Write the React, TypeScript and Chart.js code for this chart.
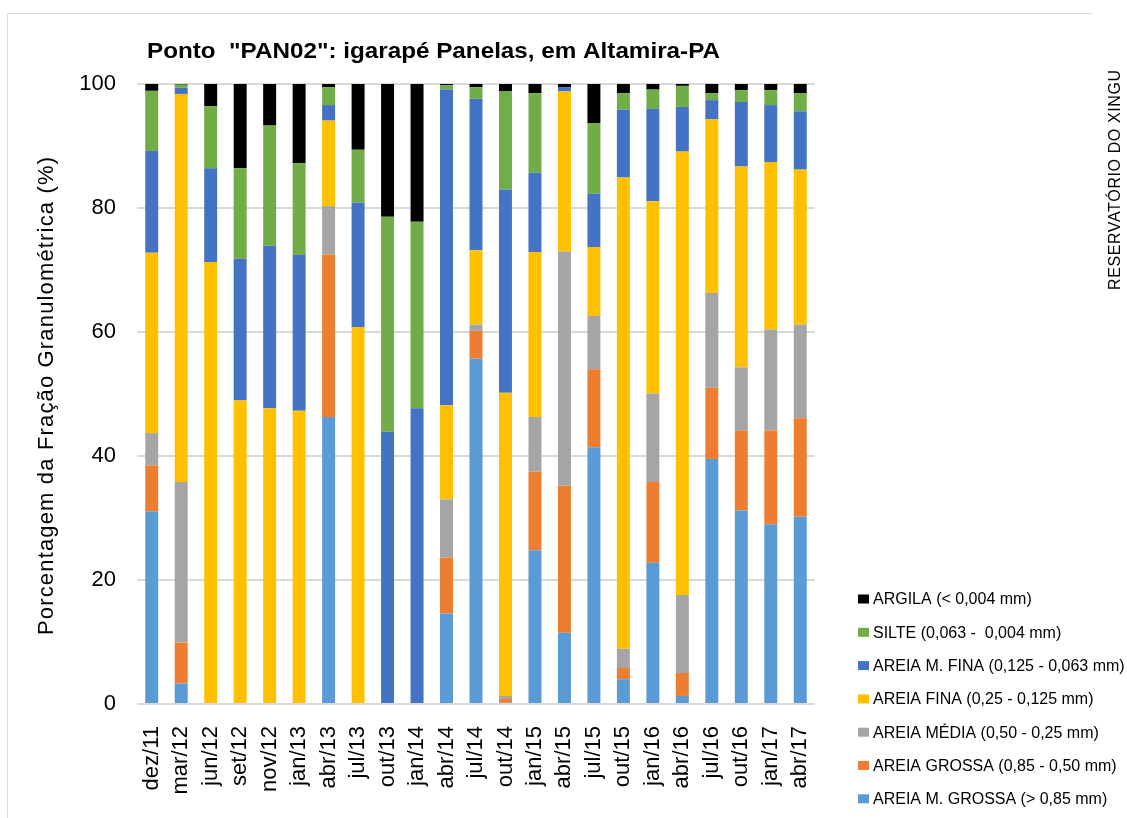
import React, { useEffect, useRef } from 'react';
import { Chart, registerables } from 'chart.js';

Chart.register(...registerables);

const categories = ['dez/11', 'mar/12', 'jun/12', 'set/12', 'nov/12', 'jan/13', 'abr/13', 'jul/13', 'out/13', 'jan/14', 'abr/14', 'jul/14', 'out/14', 'jan/15', 'abr/15', 'jul/15', 'out/15', 'jan/16', 'abr/16', 'jul/16', 'out/16', 'jan/17', 'abr/17'];

const areiaMGrossa = [31.1, 3.3, 0, 0, 0, 0, 46.3, 0, 0, 0, 14.6, 55.7, 0.2, 24.8, 11.5, 41.4, 4.0, 22.8, 1.3, 39.5, 31.2, 29.0, 30.2];
const areiaGrossa = [7.4, 6.6, 0, 0, 0, 0, 26.2, 0, 0, 0, 9.0, 4.5, 0.6, 12.7, 23.7, 12.6, 1.8, 13.0, 3.7, 11.5, 12.9, 15.1, 15.9];
const areiaMedia = [5.2, 25.9, 0, 0, 0, 0, 7.8, 0, 0, 0, 9.4, 1.0, 0.5, 8.8, 37.8, 8.6, 3.1, 14.3, 12.6, 15.3, 10.2, 16.3, 15.1];
const areiaFina = [29.1, 62.6, 71.3, 49.0, 47.7, 47.3, 13.8, 60.8, 0, 0, 15.2, 12.0, 48.9, 26.6, 25.8, 11.1, 76.0, 31.0, 71.5, 28.0, 32.4, 27.0, 25.0];
const areiaMFina = [16.4, 1.0, 15.1, 22.8, 26.2, 25.1, 2.5, 20.1, 43.9, 47.7, 50.9, 24.4, 32.8, 12.8, 0.7, 8.6, 11.0, 14.9, 7.2, 3.1, 10.4, 9.2, 9.4];
const silte = [9.7, 0.5, 10.0, 14.6, 19.4, 14.8, 2.9, 8.5, 34.7, 30.1, 0.7, 1.9, 15.8, 12.8, 0, 11.4, 2.6, 3.1, 3.4, 1.1, 1.9, 2.4, 2.9];
const argila = [1.1, 0.2, 3.6, 13.6, 6.7, 12.8, 0.5, 10.6, 21.4, 22.2, 0.3, 0.5, 1.2, 1.5, 0.5, 6.4, 1.5, 1.0, 0.3, 1.5, 1.0, 1.0, 1.5];

const seriesLabels = [
  'AREIA M. GROSSA (> 0,85 mm)',
  'AREIA GROSSA (0,85 - 0,50 mm)',
  'AREIA MÉDIA (0,50 - 0,25 mm)',
  'AREIA FINA (0,25 - 0,125 mm)',
  'AREIA M. FINA (0,125 - 0,063 mm)',
  'SILTE (0,063 -  0,004 mm)',
  'ARGILA (< 0,004 mm)',
];
const seriesColors = ['#5B9BD5', '#ED7D31', '#A5A5A5', '#FFC000', '#4472C4', '#70AD47', '#000000'];
const seriesData = [areiaMGrossa, areiaGrossa, areiaMedia, areiaFina, areiaMFina, silte, argila];

const TITLE = 'Ponto  "PAN02": igarapé Panelas, em Altamira-PA';
const Y_TITLE = 'Porcentagem da Fração Granulométrica (%)';
const SIDE_TEXT = 'RESERVATÓRIO DO XINGU';
const Y_MIN = 0;
const Y_MAX = 100;
const Y_STEP = 20;

const FONT = "Arial, 'Liberation Sans', Helvetica, sans-serif";

function spacedText(ctx: CanvasRenderingContext2D, text: string, font: string, x: number, y: number, target: number, center: boolean) {
  ctx.font = font;
  (ctx as any).letterSpacing = '0px';
  const w = ctx.measureText(text).width;
  const ls = (target - w) / Math.max(text.length - 1, 1);
  (ctx as any).letterSpacing = `${ls}px`;
  ctx.textAlign = 'left';
  ctx.fillText(text, center ? x - target / 2 : x, y);
  (ctx as any).letterSpacing = '0px';
}

function stretchedText(ctx: CanvasRenderingContext2D, text: string, font: string, x: number, y: number, target: number) {
  ctx.font = font;
  const w = ctx.measureText(text).width;
  ctx.save();
  ctx.translate(x, y);
  ctx.scale(target / w, 1);
  ctx.textAlign = 'left';
  ctx.fillText(text, 0, 0);
  ctx.restore();
}

const extraText = {
  id: 'extraText',
  afterDraw(chart: any) {
    const ctx: CanvasRenderingContext2D = chart.ctx;
    ctx.save();
    // frame
    ctx.strokeStyle = '#d9d9d9';
    ctx.lineWidth = 1;
    ctx.beginPath();
    ctx.moveTo(7.5, 818);
    ctx.lineTo(7.5, 13.5);
    ctx.lineTo(1092, 13.5);
    ctx.stroke();

    ctx.fillStyle = '#000';
    ctx.textBaseline = 'alphabetic';
    stretchedText(ctx, TITLE, `bold 22px ${FONT}`, 147, 58, 573);

    ctx.save();
    ctx.translate(47, 396);
    ctx.rotate(-Math.PI / 2);
    ctx.textBaseline = 'middle';
    spacedText(ctx, Y_TITLE, `22px ${FONT}`, 0, 0, 478, true);
    ctx.restore();

    ctx.save();
    ctx.translate(1116, 180);
    ctx.rotate(-Math.PI / 2);
    ctx.textBaseline = 'middle';
    spacedText(ctx, SIDE_TEXT, `16px ${FONT}`, 0, 0, 220, true);
    ctx.restore();

    // legend (reverse dataset order, top = ARGILA)
    const ds = chart.data.datasets;
    ctx.font = `16px ${FONT}`;
    ctx.textBaseline = 'middle';
    ctx.textAlign = 'left';
    for (let k = 0; k < ds.length; k++) {
      const d = ds[ds.length - 1 - k];
      const cy = 599 + k * 33.3;
      ctx.fillStyle = d.backgroundColor;
      ctx.fillRect(858, cy - 4.5, 11, 9);
      ctx.fillStyle = '#000';
      ctx.fillText(d.label, 873, cy + 1);
    }

    ctx.restore();
  },
};

export default function App() {
  const ref = useRef<HTMLCanvasElement | null>(null);

  useEffect(() => {
    if (!ref.current) return;
    const chart = new Chart(ref.current, {
      type: 'bar',
      data: {
        labels: categories,
        datasets: seriesData.map((d, i) => ({
          label: seriesLabels[i],
          data: d,
          backgroundColor: seriesColors[i],
          borderWidth: 0,
          barPercentage: 0.44,
          categoryPercentage: 1,
        })),
      },
      options: {
        responsive: false,
        animation: false,
        devicePixelRatio: 1,
        layout: { padding: { top: 84, left: 0, right: 312, bottom: 0 } },
        plugins: {
          title: { display: false },
          tooltip: { enabled: false },
          legend: { display: false },
        },
        scales: {
          x: {
            stacked: true,
            offset: true,
            grid: { display: false, drawTicks: false },
            border: { display: false },
            ticks: {
              autoSkip: false,
              maxRotation: 90,
              minRotation: 90,
              padding: 22,
              color: '#000',
              font: { family: FONT, size: 22 },
            },
            afterFit: (s: any) => {
              s.height = 114;
            },
          },
          y: {
            stacked: true,
            min: Y_MIN,
            max: Y_MAX,
            ticks: {
              stepSize: Y_STEP,
              padding: 21,
              color: '#000',
              font: { family: FONT, size: 22 },
            },
            grid: { color: '#d9d9d9', lineWidth: 2, drawTicks: false },
            border: { display: false },
            afterFit: (s: any) => {
              s.width = 137;
            },
          },
        },
      } as any,
      plugins: [extraText],
    });
    return () => chart.destroy();
  }, []);

  return (
    <div style={{ position: 'fixed', left: 0, top: 0, width: 1127, height: 818, background: '#fff' }}>
      <canvas ref={ref} width={1127} height={818} style={{ width: 1127, height: 818, display: 'block' }} />
    </div>
  );
}
